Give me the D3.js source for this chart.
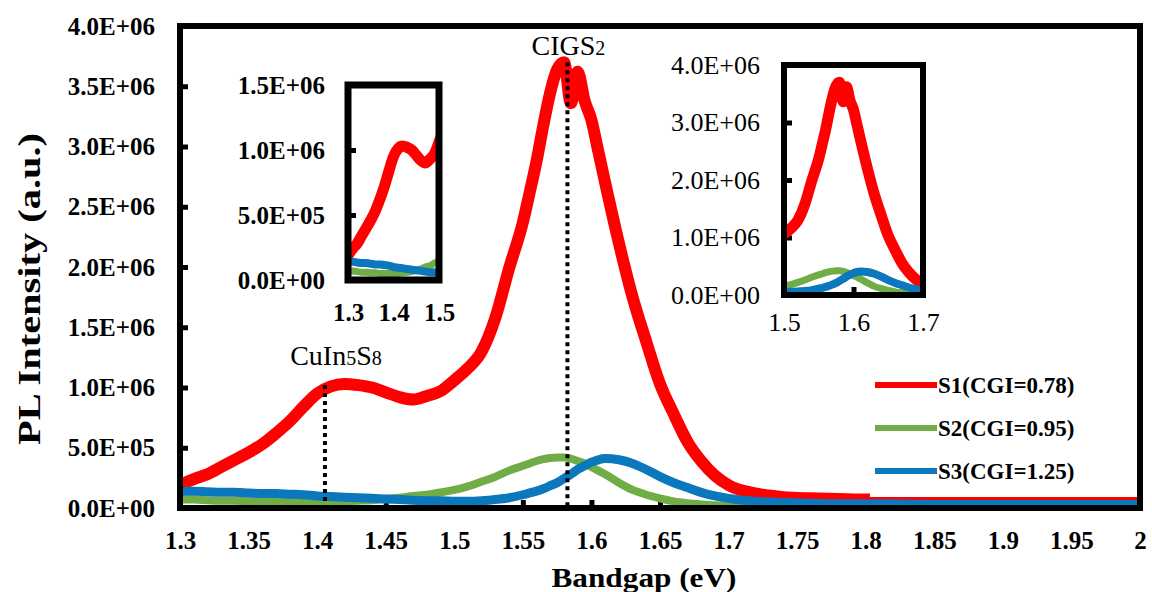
<!DOCTYPE html>
<html>
<head>
<meta charset="utf-8">
<script src="https://cdnjs.cloudflare.com/ajax/libs/d3/7.8.5/d3.min.js"></script>
<style>
  body { margin: 0; background: #fff; }
  svg { display: block; }
  text { font-family: "Liberation Serif", "Times New Roman", serif; }
</style>
</head>
<body>
<svg id="chart" width="1152" height="592"></svg>
<script>
// photon energy (eV) - shared grid for the three spectra
var energy = [1.30, 1.31, 1.32, 1.33, 1.34, 1.35, 1.36, 1.37, 1.38, 1.39,
  1.40, 1.41, 1.42, 1.43, 1.44, 1.45, 1.46, 1.47, 1.48, 1.49,
  1.50, 1.51, 1.52, 1.53, 1.54, 1.55, 1.555, 1.56, 1.565, 1.57,
  1.575, 1.58, 1.585, 1.59, 1.595, 1.60, 1.605, 1.61, 1.62, 1.63,
  1.64, 1.65, 1.66, 1.67, 1.68, 1.69, 1.70, 1.72, 1.74, 1.76,
  1.78, 1.80, 1.85, 1.90, 1.95, 2.00];

// PL intensity (a.u.)
var s1 = [1.9e5, 2.4e5, 2.8e5, 3.4e5, 4.0e5, 4.6e5, 5.3e5, 6.2e5, 7.2e5, 8.4e5,
  9.5e5, 1.01e6, 1.03e6, 1.02e6, 1.0e6, 9.6e5, 9.2e5, 9.0e5, 9.3e5, 9.7e5,
  1.06e6, 1.16e6, 1.30e6, 1.58e6, 1.99e6, 2.37e6, 2.62e6, 2.88e6, 3.18e6, 3.45e6,
  3.64e6, 3.70e6, 3.36e6, 3.62e6, 3.38e6, 3.22e6, 2.96e6, 2.70e6, 2.20e6, 1.75e6,
  1.38e6, 1.03e6, 7.8e5, 5.5e5, 3.9e5, 2.7e5, 1.9e5, 1.2e5, 9.0e4, 8.0e4,
  7.5e4, 7.0e4, 7.0e4, 6.5e4, 6.5e4, 6.5e4];
var s2 = [7.0e4, 7.0e4, 6.5e4, 6.0e4, 6.0e4, 5.5e4, 5.5e4, 5.0e4, 5.0e4, 5.0e4,
  5.0e4, 5.0e4, 5.5e4, 6.0e4, 6.5e4, 7.5e4, 8.5e4, 1.0e5, 1.1e5, 1.3e5,
  1.5e5, 1.8e5, 2.2e5, 2.6e5, 3.1e5, 3.5e5, 3.7e5, 3.9e5, 4.05e5, 4.15e5,
  4.2e5, 4.2e5, 4.1e5, 3.9e5, 3.7e5, 3.4e5, 3.1e5, 2.8e5, 2.1e5, 1.5e5,
  1.1e5, 8.0e4, 5.5e4, 4.0e4, 3.0e4, 2.2e4, 1.8e4, 1.2e4, 1.0e4, 1.0e4,
  1.0e4, 1.0e4, 1.0e4, 1.0e4, 1.0e4, 1.0e4];
var s3 = [1.4e5, 1.4e5, 1.35e5, 1.3e5, 1.3e5, 1.25e5, 1.2e5, 1.2e5, 1.15e5, 1.1e5,
  1.0e5, 9.5e4, 9.0e4, 8.5e4, 8.0e4, 7.5e4, 7.0e4, 6.5e4, 6.0e4, 6.0e4,
  5.5e4, 5.5e4, 6.0e4, 7.0e4, 8.5e4, 1.1e5, 1.25e5, 1.4e5, 1.6e5, 1.85e5,
  2.1e5, 2.45e5, 2.8e5, 3.2e5, 3.5e5, 3.8e5, 4.0e5, 4.1e5, 4.0e5, 3.7e5,
  3.2e5, 2.6e5, 2.1e5, 1.7e5, 1.3e5, 1.0e5, 8.0e4, 5.5e4, 4.5e4, 4.0e4,
  3.5e4, 3.5e4, 3.0e4, 3.0e4, 3.0e4, 3.0e4];

var seriesNames = ["S1(CGI=0.78)", "S2(CGI=0.95)", "S3(CGI=1.25)"];
var seriesColors = ["#ff0000", "#70ad47", "#0b77bd"];

var mainXTicks = [1.3, 1.35, 1.4, 1.45, 1.5, 1.55, 1.6, 1.65, 1.7, 1.75, 1.8, 1.85, 1.9, 1.95, 2.0];
var mainYTicks = [0, 5e5, 1e6, 1.5e6, 2e6, 2.5e6, 3e6, 3.5e6, 4e6];
var inset1XTicks = [1.3, 1.4, 1.5];
var inset1YTicks = [0, 5e5, 1e6, 1.5e6];
var inset2XTicks = [1.5, 1.6, 1.7];
var inset2YTicks = [0, 1e6, 2e6, 3e6, 4e6];

// peak markers: position (eV) and top of the dotted line (a.u.)
var peakNames = ["CuIn", "CIGS"];
var peakSubs = [["5", "S", "8"], ["2"]];
var peakEnergy = [1.4057, 1.5825];
var peakTop = [1.02e6, 3.70e6];

var series = seriesNames.map(function(n, i) {
  var vals = [s1, s2, s3][i];
  return { name: n, color: seriesColors[i], points: energy.map(function(e, j) { return [e, vals[j]]; }) };
});

var svg = d3.select("#chart");

function fmtE(v) {
  if (v === 0) return "0.0E+00";
  var e = Math.floor(Math.log10(v) + 1e-9);
  var m = v / Math.pow(10, e);
  return m.toFixed(1) + "E+" + (e < 10 ? "0" : "") + e;
}

function drawPanel(cfg) {
  var g = svg.append("g");
  var x = d3.scaleLinear().domain(cfg.xDomain).range([cfg.left, cfg.right]);
  var y = d3.scaleLinear().domain(cfg.yDomain).range([cfg.bottom, cfg.top]);

  g.append("rect").attr("x", cfg.left).attr("y", cfg.top)
    .attr("width", cfg.right - cfg.left).attr("height", cfg.bottom - cfg.top)
    .attr("fill", "#fff");

  var yAxis = g.append("g").attr("transform", "translate(" + cfg.left + ",0)")
    .call(d3.axisLeft(y).tickValues(cfg.yTicks).tickSize(-cfg.tick).tickPadding(cfg.yPad).tickFormat(fmtE));
  var xAxis = g.append("g").attr("transform", "translate(0," + cfg.bottom + ")")
    .call(d3.axisBottom(x).tickValues(cfg.xTicks).tickSize(-cfg.tick).tickPadding(cfg.xPad)
      .tickFormat(function(d) { return String(+d.toFixed(2)); }));
  [xAxis, yAxis].forEach(function(a) {
    a.select(".domain").remove();
    a.attr("font-family", null).attr("font-size", null);
    a.selectAll(".tick line").attr("stroke", "#000").attr("stroke-width", 5);
    a.selectAll(".tick text").attr("fill", "#000")
      .style("font-size", cfg.fontSize + "px").style("font-weight", cfg.bold ? "bold" : "normal");
  });

  var clipId = "clip" + cfg.id;
  g.append("clipPath").attr("id", clipId).append("rect")
    .attr("x", cfg.left).attr("y", cfg.top - 10)
    .attr("width", cfg.right - cfg.left).attr("height", cfg.bottom - cfg.top + 10);

  var line = d3.line().x(function(d) { return x(d[0]); }).y(function(d) { return y(d[1]); })
    .curve(d3.curveMonotoneX);
  g.append("g").attr("clip-path", "url(#" + clipId + ")")
    .selectAll("path").data(series).enter().append("path")
    .attr("d", function(d) { return line(d.points); })
    .attr("fill", "none")
    .attr("stroke", function(d) { return d.color; })
    .attr("stroke-width", function(d, i) { return cfg.widths[i]; })
    .attr("stroke-linejoin", "round");

  return { g: g, x: x, y: y, cfg: cfg };
}

var main = drawPanel({
  id: "main", left: 180, right: 1140, top: 26, bottom: 508,
  xDomain: [1.3, 2.0], yDomain: [0, 4e6], xTicks: mainXTicks, yTicks: mainYTicks,
  tick: 8, xPad: 23, yPad: 25, fontSize: 25, bold: true, widths: [12, 8, 9]
});

// dotted peak markers + labels
peakNames.forEach(function(n, i) {
  var px = main.x(peakEnergy[i]);
  main.g.append("line")
    .attr("x1", px).attr("x2", px)
    .attr("y1", main.y(peakTop[i])).attr("y2", main.y(0))
    .attr("stroke", "#000").attr("stroke-width", 4).attr("stroke-dasharray", "4,4");
  var t = main.g.append("text")
    .attr("x", px + (i === 0 ? 11 : 1))
    .attr("y", main.y(peakTop[i]) + (i === 0 ? -20 : -7))
    .attr("text-anchor", "middle")
    .style("font-size", "28px").attr("fill", "#000");
  t.append("tspan").text(n);
  peakSubs[i].forEach(function(s) {
    var sub = s !== "S";
    t.append("tspan").text(s).style("font-size", sub ? "20px" : "28px");
  });
});

// legend (white box covering curves)
var lg = main.g.append("g");
lg.append("rect").attr("x", 870).attr("y", 362).attr("width", 267).attr("height", 135).attr("fill", "#fff");
series.forEach(function(s, i) {
  var ly = 385 + i * 43;
  lg.append("line").attr("x1", 875).attr("x2", 937).attr("y1", ly).attr("y2", ly)
    .attr("stroke", s.color).attr("stroke-width", 6);
  lg.append("text").attr("x", 938).attr("y", ly + 8).text(s.name)
    .style("font-size", "23px").style("font-weight", "bold").attr("fill", "#000");
});

// main frame
main.g.append("rect").attr("x", 180).attr("y", 26).attr("width", 960).attr("height", 482)
  .attr("fill", "none").attr("stroke", "#000").attr("stroke-width", 6);

// axis titles
svg.append("text").attr("x", 644).attr("y", 587).attr("text-anchor", "middle")
  .attr("textLength", 185).attr("lengthAdjust", "spacingAndGlyphs")
  .style("font-size", "28px").style("font-weight", "bold").text("Bandgap (eV)");
svg.append("text").attr("transform", "translate(40,289) rotate(-90)").attr("text-anchor", "middle")
  .attr("textLength", 312).attr("lengthAdjust", "spacingAndGlyphs")
  .style("font-size", "31px").style("font-weight", "bold").text("PL Intensity (a.u.)");

// inset 1: 1.3-1.5 eV
var in1 = drawPanel({
  id: "in1", left: 348, right: 439, top: 85, bottom: 280,
  xDomain: [1.3, 1.5], yDomain: [0, 1.5e6], xTicks: inset1XTicks, yTicks: inset1YTicks,
  tick: 8, xPad: 23, yPad: 23, fontSize: 25, bold: true, widths: [11, 7, 8]
});
in1.g.append("rect").attr("x", 348).attr("y", 85).attr("width", 91).attr("height", 195)
  .attr("fill", "none").attr("stroke", "#000").attr("stroke-width", 7);

// inset 2: 1.5-1.7 eV
var in2 = drawPanel({
  id: "in2", left: 784, right: 923, top: 65, bottom: 295,
  xDomain: [1.5, 1.7], yDomain: [0, 4e6], xTicks: inset2XTicks, yTicks: inset2YTicks,
  tick: 8, xPad: 18, yPad: 24, fontSize: 26, bold: false, widths: [11, 7, 8]
});
in2.g.append("rect").attr("x", 784).attr("y", 65).attr("width", 139).attr("height", 230)
  .attr("fill", "none").attr("stroke", "#000").attr("stroke-width", 6);
</script>
</body>
</html>
